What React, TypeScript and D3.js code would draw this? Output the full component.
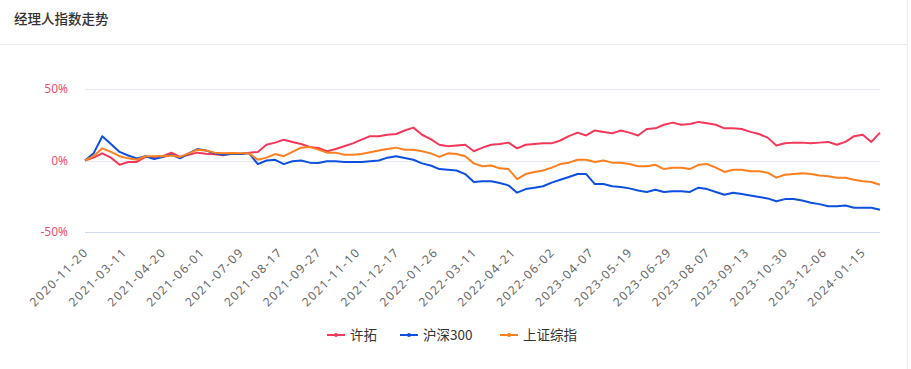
import React from "react";
import * as d3 from "d3";

// ---- data ----
const SERIES_NAMES = ["许拓", "沪深300", "上证综指"];
const X_LABELS = [
  "2020-11-20", "2021-03-11", "2021-04-20", "2021-06-01", "2021-07-09", "2021-08-17",
  "2021-09-27", "2021-11-10", "2021-12-17", "2022-01-26", "2022-03-11", "2022-04-21",
  "2022-06-02", "2023-04-07", "2023-05-19", "2023-06-29", "2023-08-07", "2023-09-13",
  "2023-10-30", "2023-12-06", "2024-01-15",
];
const LABEL_INTERVAL = 27; // trading days between labels
const TOTAL_DAYS = 552;
const SAMPLE_STEP = 6; // trading days between samples
const Y_TICKS = [-50, 0, 50];

const XUTUO = [
  0, 2, 5, 2, -3, -1, -1, 2.5, 2.5, 3, 5.5, 2.5, 4, 5.5, 4.8, 4.4, 3.6, 5.2, 4.5, 5.5,
  6, 11, 12.5, 14.5, 13, 11.5, 9.5, 8.8, 6.5, 8, 10, 12, 14.6, 17, 17, 18, 18.5, 21, 23, 18,
  15, 11, 10, 10.5, 11, 6.5, 9, 11, 11.5, 12.5, 8.5, 11, 11.5, 12, 12, 14, 17, 19.5, 17.5, 21,
  20, 19, 21, 19.5, 17.5, 22, 22.5, 25, 26.5, 25, 25.5, 27, 26, 25, 22.5, 22.5, 22, 20, 18.5, 16,
  10.5, 12, 12.5, 12.5, 12, 12.5, 13, 11, 13, 17, 18, 13, 19.5,
];
const HS300 = [
  0, 5, 17, 11.5, 6, 3.5, 1.5, 3, 1, 2.5, 4, 1.5, 5, 8, 7, 5, 4, 4.5, 4.5, 5,
  -2.5, 0, 0.5, -2.5, -0.5, 0, -1.5, -1.7, -0.5, -0.5, -1, -1, -1, -0.5, 0, 2, 3, 1.7, 0.5, -2,
  -3.5, -6, -6.5, -7, -9.5, -15, -14.5, -14.5, -15.7, -17.4, -22.5, -20, -19, -18, -15.5, -13.5, -11.5, -9.4, -9.5, -16.5,
  -16.5, -18, -18.5, -19.5, -21, -22, -20.5, -22, -21.5, -21.5, -22, -19, -20, -22, -24, -22.5, -23.5, -24.5, -25.5, -26.5,
  -28.5, -27, -27, -28, -29.5, -30.5, -32, -32, -31.5, -33, -33, -33, -34.5,
];
const SZZS = [
  0, 3, 8.5, 6, 3, 1.5, 0.5, 3, 3, 3, 3.5, 2.5, 5, 7.5, 7, 5.5, 5, 5.2, 5, 5,
  0.5, 2, 4.5, 3, 6, 9, 9.5, 7.6, 5.5, 5.5, 4, 4, 4.6, 5.8, 7, 8, 9, 7.5, 7.5, 6.5,
  5, 2.5, 5, 4.5, 3, -2, -4, -3.5, -5.5, -6, -13, -9.5, -8, -7, -5, -2.5, -1.5, 0.5, 0.5, -1,
  0, -1.5, -1.5, -2.5, -4, -4, -3, -6, -5, -5, -6, -3, -2.5, -5, -8, -6.5, -6.5, -7.5, -7.5, -8.5,
  -12, -10, -9.5, -9, -9.5, -10.5, -11, -12, -12, -13.5, -14.5, -15, -17,
];

const COLORS = ["#f5385a", "#0d4fdf", "#fd7f1d"];

const W = 911;
const H = 369;
const LEFT = 85;
const RIGHT = 880;
const TOP = 89;
const BOTTOM = 232;

export default function App() {
  const x = d3.scaleLinear().domain([0, TOTAL_DAYS]).range([LEFT, RIGHT]);
  const y = d3.scaleLinear().domain([-50, 50]).range([BOTTOM, TOP]);
  const seriesData = [XUTUO, HS300, SZZS];
  const line = d3
    .line<number>()
    .x((_, i) => x(i * SAMPLE_STEP))
    .y((d) => y(d));

  const legendX = [327, 400, 500];

  return (
    <svg
      width={W}
      height={H}
      style={{ position: "absolute", left: 0, top: 0, background: "#fff" }}
      fontFamily="'Noto Sans CJK SC', 'Noto Sans', sans-serif"
    >
      <rect x={0} y={0} width={W} height={H} fill="#fff" />
      {/* panel border */}
      <line x1={907.5} x2={907.5} y1={0} y2={H} stroke="#eeeeee" />
      <line x1={0} x2={907} y1={44.5} y2={44.5} stroke="#ececec" />
      <text x={14} y={24} fontSize={13.5} fill="#333" fontWeight={500}>
        经理人指数走势
      </text>

      {/* grid */}
      {Y_TICKS.map((t) => (
        <g key={t}>
          <line
            x1={LEFT}
            x2={RIGHT}
            y1={Math.round(y(t)) + 0.5}
            y2={Math.round(y(t)) + 0.5}
            stroke={t === -50 ? "#d2dbee" : "#e6e9f0"}
          />
          <text
            x={68}
            y={y(t)}
            dy="0.35em"
            textAnchor="end"
            fontSize={12}
            fill="#f0506e"
            fontFamily="'Noto Sans', sans-serif"
          >
            {`${t}%`}
          </text>
        </g>
      ))}

      {/* x labels */}
      {X_LABELS.map((lab, i) => {
        const tx = x(i * LABEL_INTERVAL);
        return (
          <text
            key={lab}
            transform={`translate(${tx + 1},${250}) rotate(-45)`}
            textAnchor="end"
            dy="0.35em"
            fontSize={12}
            letterSpacing={1.4}
            fill="#666"
            fontFamily="'Noto Sans', sans-serif"
          >
            {lab}
          </text>
        );
      })}

      {/* series */}
      {seriesData.map((s, k) => (
        <path
          key={k}
          d={line(s) || ""}
          fill="none"
          stroke={COLORS[k]}
          strokeWidth={2}
          strokeLinejoin="round"
        />
      ))}

      {/* legend */}
      {SERIES_NAMES.map((n, k) => (
        <g key={n} transform={`translate(${legendX[k]},335)`}>
          <line x1={0} x2={18} y1={0} y2={0} stroke={COLORS[k]} strokeWidth={2} />
          <circle cx={9} cy={0} r={2} fill={COLORS[k]} />
          <text x={23} y={0} dy="0.35em" fontSize={13.5} fill="#333">
            {n}
          </text>
        </g>
      ))}
    </svg>
  );
}
